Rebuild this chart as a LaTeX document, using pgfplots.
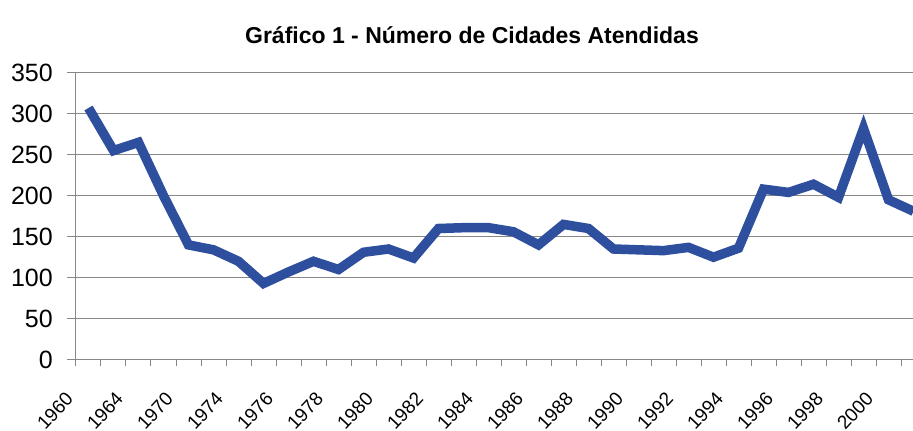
\documentclass[border=0pt]{standalone}
\usepackage{fontspec}
\setmainfont{Liberation Sans}
\usepackage{pgfplots}
\pgfplotsset{compat=1.18}
\definecolor{lineblue}{RGB}{46,79,158}
\definecolor{gridgray}{RGB}{135,135,135}
\begin{document}
\begin{tikzpicture}
\begin{axis}[
  at={(0pt,0pt)}, anchor=south west,
  scale only axis, width=837.5pt, height=287pt,
  xmin=-0.5, xmax=33, ymin=0, ymax=350,
  axis lines*=left,
  axis line style={gridgray, line width=1pt},
  ytick={0,50,...,350},
  ymajorgrids, major grid style={gridgray, line width=1pt},
  xtick={0,2,...,32},
  xticklabels={1960,1964,1970,1974,1976,1978,1980,1982,1984,1986,1988,1990,1992,1994,1996,1998,2000},
  minor xtick={-0.5,0.5,...,32.5},
  tick align=outside,
  major tick length=9pt, minor tick length=6pt,
  major x tick style={draw=none},
  minor x tick style={gridgray, line width=1pt},
  major y tick style={gridgray, line width=1pt},
  /pgf/number format/assume math mode=true,
  yticklabel style={font=\fontsize{25}{25}\selectfont, anchor=east, inner sep=0pt, xshift=-14pt},
  xticklabel style={font=\fontsize{19}{19}\selectfont, xshift=-24pt, yshift=-22pt, rotate=47, anchor=north east, inner sep=0pt},
  clip=true,
]
\addplot[lineblue, line width=9.5pt, line join=miter] coordinates {
(0,307) (1,255) (2,265) (3,200) (4,140) (5,134) (6,120) (7,93) (8,107) (9,120)
(10,110) (11,131) (12,135) (13,124) (14,160) (15,161) (16,161) (17,156) (18,140) (19,165)
(20,160) (21,135) (22,134) (23,133) (24,137) (25,125) (26,136) (27,208) (28,204) (29,214)
(30,198) (31,282) (32,195) (33,181)
};
\end{axis}
\node[anchor=base, font=\bfseries\fontsize{23}{23}\selectfont] at (396pt,316.4pt) {Gráfico 1 - Número de Cidades Atendidas};
\pgfresetboundingbox
\useasboundingbox (-76pt,-71.3pt) rectangle (837pt,359.7pt);
\end{tikzpicture}
\end{document}
